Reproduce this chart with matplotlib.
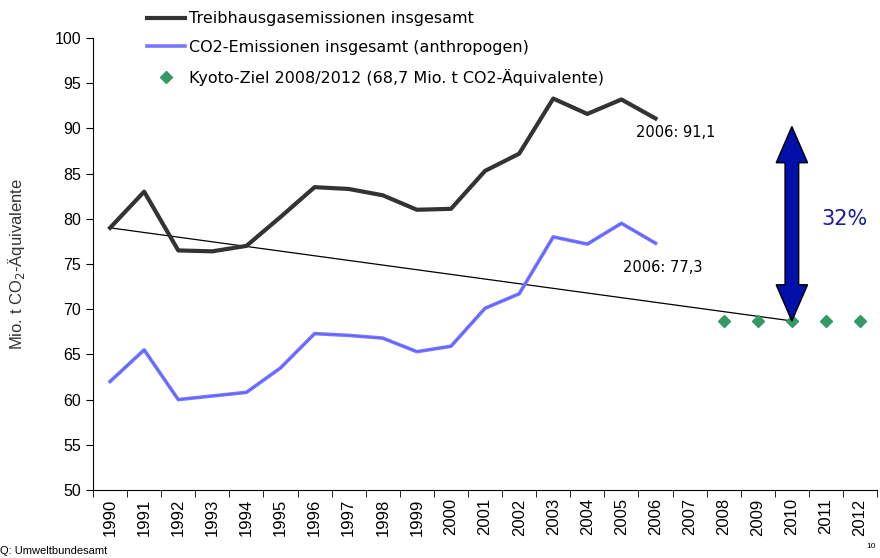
import numpy as np
import matplotlib
matplotlib.use("Agg")
import matplotlib.pyplot as plt
from matplotlib.patches import Polygon
from matplotlib.ticker import FixedLocator, NullFormatter

years = list(range(1990, 2013))
ghg_years = list(range(1990, 2007))
ghg_total = [79.0, 83.0, 76.5, 76.4, 77.0, 80.2, 83.5, 83.3, 82.6, 81.0,
             81.1, 85.3, 87.2, 93.3, 91.6, 93.2, 91.1]
co2_total = [62.0, 65.5, 60.0, 60.4, 60.8, 63.5, 67.3, 67.1, 66.8, 65.3,
             65.9, 70.1, 71.7, 78.0, 77.2, 79.5, 77.3]
kyoto_years = [2008, 2009, 2010, 2011, 2012]
kyoto_target = [68.7] * 5
trend_years = [1990, 2010]
trend_values = [79.0, 68.7]
arrow_year = 2010
arrow_range = (68.7, 90.2)

TICK_FONT = "Liberation Sans"
TEXT_FONT = "DejaVu Sans"

fig = plt.figure(figsize=(8.8, 5.58), dpi=100)
ax = fig.add_axes([0.1057, 0.1219, 0.891, 0.81])

x_of = {y: i for i, y in enumerate(years)}
gx = [x_of[y] for y in ghg_years]
kx = [x_of[y] for y in kyoto_years]
tx = [x_of[y] for y in trend_years]

ax.plot(tx, trend_values, color="black", lw=0.9, zorder=2)
l1, = ax.plot(gx, ghg_total, color="#333333", lw=3, zorder=3,
              label="Treibhausgasemissionen insgesamt")
l2, = ax.plot(gx, co2_total, color="#7878ff", lw=2.6, zorder=3,
              label="CO2-Emissionen insgesamt (anthropogen)")
ax.plot(gx, co2_total, color="#3a3aff", lw=0.6, ls=(0, (1, 1)), zorder=3)
l3, = ax.plot(kx, kyoto_target, ls="none", marker="D", ms=6.5,
              color="#339966", zorder=4,
              label="Kyoto-Ziel 2008/2012 (68,7 Mio. t CO2-Äquivalente)")

# double-headed block arrow at 2010 (widths in category units, head in y units)
cx = x_of[arrow_year]
lo, hi = arrow_range
hw, sw, hl = 0.46, 0.2, 4.0
verts = [(cx, hi), (cx + hw, hi - hl), (cx + sw, hi - hl), (cx + sw, lo + hl),
         (cx + hw, lo + hl), (cx, lo), (cx - hw, lo + hl), (cx - sw, lo + hl),
         (cx - sw, hi - hl), (cx - hw, hi - hl)]
ax.add_patch(Polygon(verts, closed=True, facecolor="#0010a8",
                     edgecolor="black", lw=1, zorder=5))

ax.text(x_of[2011] + 0.55, 80, "32%", color="#1a1aa0", fontsize=15,
        family=TEXT_FONT, ha="center", va="center")
ax.text(x_of[2006] + 0.6, 89.6, "2006: 91,1", fontsize=10.5, family=TEXT_FONT,
        ha="center", va="center")
ax.text(x_of[2006] + 0.2, 74.6, "2006: 77,3", fontsize=10.5, family=TEXT_FONT,
        ha="center", va="center")

ax.set_xlim(-0.5, len(years) - 0.5)
ax.set_ylim(50, 100)
ax.set_yticks(np.arange(50, 101, 5))
ax.set_xticks(range(len(years)))
ax.set_xticklabels([str(y) for y in years], rotation=90, family=TICK_FONT,
                   fontsize=12)
ax.tick_params(axis="x", length=0, pad=6)
ax.xaxis.set_minor_locator(FixedLocator(np.arange(-0.5, len(years), 1)))
ax.xaxis.set_minor_formatter(NullFormatter())
ax.tick_params(axis="x", which="minor", length=5, direction="out")
ax.tick_params(axis="y", length=5, direction="out", labelsize=11.5)
for lab in ax.get_yticklabels():
    lab.set_family(TICK_FONT)
for s in ["top", "right"]:
    ax.spines[s].set_visible(False)
ax.set_ylabel("Mio. t CO$_2$-Äquivalente", family=TICK_FONT, fontsize=12,
              labelpad=20, color="#333333")

fig.legend(handles=[l1, l2, l3], loc="upper left",
           bbox_to_anchor=(0.158, 0.994), frameon=False,
           prop={"family": TEXT_FONT, "size": 11.5}, handlelength=2.4,
           handletextpad=0.2, labelspacing=0.85, borderaxespad=0.1)

fig.text(0.0, 0.003, "Q: Umweltbundesamt", fontsize=8, family=TICK_FONT,
         ha="left", va="bottom")
fig.text(0.995, 0.015, "10", fontsize=6, family=TICK_FONT,
         ha="right", va="bottom")

fig.savefig("out.png", dpi=100)
